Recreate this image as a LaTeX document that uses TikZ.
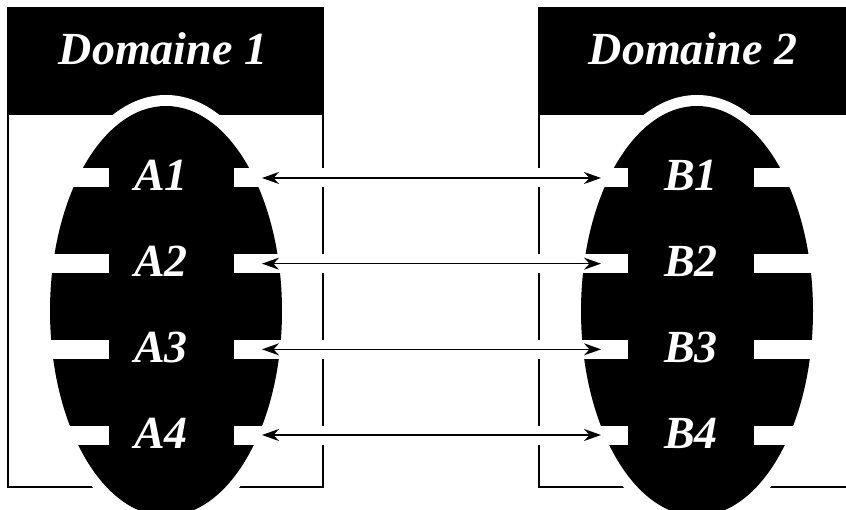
\documentclass[tikz,border=0pt]{standalone}
\usepackage{fontspec}
\setmainfont{Liberation Serif}
\usetikzlibrary{arrows.meta}
\begin{document}
\begin{tikzpicture}[x=1pt,y=-1pt,
  boxline/.style={draw=black,line width=1.6pt},
  lbl/.style={text=white,font=\fontsize{46}{50}\selectfont\bfseries\itshape,anchor=base,inner sep=0pt},
  link/.style={line width=1.3pt,{Stealth[length=17pt,width=12pt,inset=5.5pt]}-{Stealth[length=17pt,width=12pt,inset=5.5pt]}}]
\useasboundingbox (0,0) rectangle (846,510);
% domain boxes
\draw[boxline] (8,8) rectangle (323,487);
\fill[black] (8,8) rectangle (323,115);
\draw[boxline] (860,8) -- (539,8) -- (539,487) -- (860,487);
\fill[black] (539,8) rectangle (860,115);
% ellipses with white halo
\fill[white] (166,311) ellipse [x radius=127,y radius=216];
\fill[black] (166,311) ellipse [x radius=116,y radius=205];
\fill[white] (697,311) ellipse [x radius=127,y radius=216];
\fill[black] (697,311) ellipse [x radius=116,y radius=205];
% white bars
\foreach \yy in {178,263.67,349.33,435} {
  \fill[white] (30,\yy-9.5) rectangle (109,\yy+9.5);
  \fill[white] (234,\yy-9.5) rectangle (628,\yy+9.5);
  \fill[white] (754,\yy-9.5) rectangle (840,\yy+9.5);
}
% headers
\node[lbl] (d1) at (163,65) {Domaine 1};
\node[lbl] (d2) at (693,65) {Domaine 2};
% labels
\node[lbl] (A1) at (161,191) {A1};
\node[lbl] (A2) at (161,276.67) {A2};
\node[lbl] (A3) at (161,362.33) {A3};
\node[lbl] (A4) at (161,448) {A4};
\node[lbl] (B1) at (691,191) {B1};
\node[lbl] (B2) at (691,276.67) {B2};
\node[lbl] (B3) at (691,362.33) {B3};
\node[lbl] (B4) at (691,448) {B4};
% arrow ends
\coordinate (a1) at (262,178);
\coordinate (a2) at (262,263.67);
\coordinate (a3) at (262,349.33);
\coordinate (a4) at (262,435);
\coordinate (b1) at (601,178);
\coordinate (b2) at (601,263.67);
\coordinate (b3) at (601,349.33);
\coordinate (b4) at (601,435);
\draw[link] (a1) -- (b1);
\draw[link] (a2) -- (b2);
\draw[link] (a3) -- (b3);
\draw[link] (a4) -- (b4);
\end{tikzpicture}
\end{document}
